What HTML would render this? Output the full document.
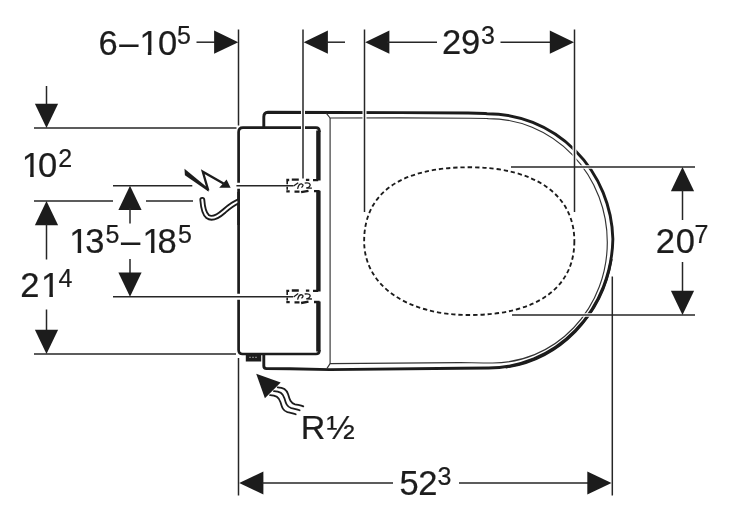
<!DOCTYPE html>
<html lang="en"><head><meta charset="utf-8"><title>Dimensional drawing</title>
<style>
html,body{margin:0;padding:0;background:#fff}
svg{display:block;will-change:transform;opacity:.999;filter:blur(.45px)}
text{font-family:"Liberation Sans",sans-serif;fill:#1c1c1c;stroke:#1c1c1c;stroke-width:.22}
.d{stroke:#262626;stroke-width:1.5;fill:none}
.k{stroke:#1c1c1c;fill:none;stroke-linejoin:round}
.t{stroke:#333;stroke-width:1.15;fill:none}
.w{stroke:#1c1c1c;stroke-width:1.8;fill:none;stroke-linecap:round}
.a{fill:#1c1c1c}
</style></head><body>
<svg width="736" height="524" viewBox="0 0 736 524">
<rect width="736" height="524" fill="#fff"/>
<path class="k" stroke-width="2.9" d="M263.8 127.5V117Q263.8 112.3 268 112.2L400 112.6L468 113C478 113.1 482 113.4 487.14 113.68A125.77 128.55 0 0 1 612.87 239A124.2 131.62 0 0 1 488.7 367.97C480 368 470 368.1 460 368.2L330 369.6L290 368.8L266.5 368.6Q263.8 368.6 263.8 366V355"/>
<path class="k" stroke-width="2.6" stroke-linecap="round" d="M611.31 259.66A124.2 131.62 0 0 1 506.29 367.14"/>
<path class="t" d="M326.4 113.4L330.1 118L400 117.8L470 118.2C478 118.2 483 118.4 488.25 118.57A119.22 123.66 0 0 1 607.3 242.3A114.69 120.51 0 0 1 492.3 363.02C480 363 470 362.7 460 362.6L330.1 363.6L327 368.4"/>
<path class="t" d="M330.1 118V363.6"/>
<path class="k" stroke-width="2.7" d="M319.25 132V131Q319.25 127.7 316 127.7H243Q238.6 127.7 238.6 132V350Q238.6 354 242.6 354H316Q319.25 354 319.25 351V350"/>
<path class="k" stroke-width="4.4" d="M318.4 180.6V130.5M318.4 190.8V291.4M318.4 301.6V351.5"/>
<rect x="245.8" y="354" width="15.4" height="7.5" fill="#1c1c1c"/>
<path d="M249 357.3H258" stroke="#777" stroke-width="1.2" stroke-dasharray="2 1"/>
<path d="M574.35 241.14C574.35 288.19 536.19 315.01 469.25 315.01C406.36 315.01 364.15 285.34 364.15 241.14C364.15 192.96 400.70 167.27 469.25 167.27C535.08 167.27 574.35 194.87 574.35 241.14Z" fill="none" stroke="#1c1c1c" stroke-width="1.85" stroke-dasharray="4.3 2.9"/>
<rect x="285.5" y="181.00" width="30" height="9.4" fill="#fff" stroke="none"/>
<path d="M286.3 180.00h2.9m2.6 -.3h7m7.1 .2h3.4m3.7 .2h5.2M286.3 191.40h3.4m4.8 .2h5m1.6 .6l7.4 -1.4m5.5 .4h5.6" fill="none" stroke="#1c1c1c" stroke-width="2.3"/>
<path d="M287.2 181.10v3.2m0 2.4v3" fill="none" stroke="#1c1c1c" stroke-width="1.6"/>
<path d="M293.6 186.10l4.6 -3.4m-.6 6.2q1.2 -5.4 4.2 -4.9q2.6 .8 -.3 3.6m3.2 -4.4q4.6 -.8 5.4 1.2q.6 2.6 -3.8 3.6l5.6 .2" fill="none" stroke="#1c1c1c" stroke-width="1.3"/>
<rect x="285.5" y="291.80" width="30" height="9.4" fill="#fff" stroke="none"/>
<path d="M286.3 290.80h2.9m2.6 -.3h7m7.1 .2h3.4m3.7 .2h5.2M286.3 302.20h3.4m4.8 .2h5m1.6 .6l7.4 -1.4m5.5 .4h5.6" fill="none" stroke="#1c1c1c" stroke-width="2.3"/>
<path d="M287.2 291.90v3.2m0 2.4v3" fill="none" stroke="#1c1c1c" stroke-width="1.6"/>
<path d="M293.6 296.90l4.6 -3.4m-.6 6.2q1.2 -5.4 4.2 -4.9q2.6 .8 -.3 3.6m3.2 -4.4q4.6 -.8 5.4 1.2q.6 2.6 -3.8 3.6l5.6 .2" fill="none" stroke="#1c1c1c" stroke-width="1.3"/>
<path d="M303 108V178M364.5 108V212M574.5 140V212" stroke="#fff" stroke-width="4" fill="none"/>
<path d="M236 185.8H286M236 296.7H286" stroke="#fff" stroke-width="4" fill="none"/>
<path d="M236 185.8H241.5M236 296.7H241.5" stroke="#fff" stroke-width="6" fill="none"/>
<path d="M511 167H600M512 315H600" stroke="#fff" stroke-width="3.6" fill="none"/>
<path class="d" d="M238.50 29.50V125.50"/>
<path class="d" d="M303.00 29.50V178.50"/>
<path class="d" d="M364.50 29.50V212.00"/>
<path class="d" d="M574.50 29.50V212.00"/>
<path class="d" d="M196.50 42.20H216.00"/>
<polygon class="a" points="238.30,42.20 214.10,30.60 214.10,53.80"/>
<polygon class="a" points="303.70,42.20 327.90,30.60 327.90,53.80"/>
<path class="d" d="M326.00 42.20H345.00"/>
<polygon class="a" points="365.20,42.20 389.40,30.60 389.40,53.80"/>
<path class="d" d="M387.00 42.20H437.00"/>
<path class="d" d="M500.50 42.20H552.00"/>
<polygon class="a" points="574.00,42.20 549.80,30.60 549.80,53.80"/>
<path class="d" d="M34.00 128.00H236.50"/>
<path class="d" d="M46.50 86.00V105.00"/>
<polygon class="a" points="46.50,128.00 34.90,103.80 58.10,103.80"/>
<path class="d" d="M34.00 201.00H113.00"/>
<path class="d" d="M146.00 201.00H193.00"/>
<path class="d" d="M113.00 185.80H192.30"/>
<path class="d" d="M236.40 185.80H293.40"/>
<polygon class="a" points="46.50,201.00 34.90,225.20 58.10,225.20"/>
<path class="d" d="M46.50 224.00V259.50"/>
<path class="d" d="M46.50 309.50V332.00"/>
<polygon class="a" points="46.50,354.00 34.90,329.80 58.10,329.80"/>
<path class="d" d="M34.00 354.00H236.00"/>
<rect x="117" y="190" width="26" height="22" fill="#fff"/>
<polygon class="a" points="130.00,185.80 118.40,210.00 141.60,210.00"/>
<path class="d" d="M130.00 208.00V223.50"/>
<path class="d" d="M130.00 259.00V274.00"/>
<polygon class="a" points="130.00,296.70 118.40,272.50 141.60,272.50"/>
<path class="d" d="M113.00 296.70H293.00"/>
<path class="d" d="M511.00 167.00H695.00"/>
<path class="d" d="M512.00 315.00H695.00"/>
<polygon class="a" points="682.50,167.00 670.90,191.20 694.10,191.20"/>
<path class="d" d="M682.50 190.00V220.00"/>
<path class="d" d="M682.50 262.00V292.00"/>
<polygon class="a" points="682.50,315.00 670.90,290.80 694.10,290.80"/>
<path class="d" d="M612.30 276.50V495.50"/>
<path class="d" d="M238.50 358.00V495.50"/>
<polygon class="a" points="239.20,483.00 263.40,471.40 263.40,494.60"/>
<path class="d" d="M262.00 483.00H393.00"/>
<path class="d" d="M459.00 483.00H589.00"/>
<polygon class="a" points="611.50,483.00 587.30,471.40 587.30,494.60"/>
<path d="M184.5 168.7L184.9 175.3L208.8 191.8L207.3 187.4Z" fill="#1c1c1c"/>
<path d="M208.3 190.6L202.8 171.7L223.5 183.6" fill="none" stroke="#1c1c1c" stroke-width="2.3" stroke-linejoin="miter" stroke-miterlimit="10"/>
<polygon class="a" points="230.6,187.8 226.6,179.6 219.2,187.7"/>
<clipPath id="cc"><rect x="0" y="0" width="238.6" height="524"/></clipPath>
<g clip-path="url(#cc)"><path d="M202.3 199.8C202.8 206.5 203.6 213.2 207.6 216.5C212.6 220.2 219 215.6 224 211.2C229 206.8 233 203.2 240 200.7" fill="none" stroke="#1c1c1c" stroke-width="5.8" stroke-linecap="round"/>
<path d="M202.3 199.8C202.8 206.5 203.6 213.2 207.6 216.5C212.6 220.2 219 215.6 224 211.2C229 206.8 233 203.2 240 200.7" fill="none" stroke="#fff" stroke-width="2.1" stroke-linecap="round"/></g>
<path class="k" stroke-width="2.5" d="M238.6 192V225"/>
<polygon class="a" points="256.2,373.8 280.7,382.5 264.9,398.3"/>
<path class="w" d="M277.7 387.3C282 387.3 286.3 388.3 288 394C289.6 399.5 290.6 403 295 404.3C298 405.1 301 405.2 303.3 406.4"/>
<path class="w" transform="translate(-3.7 3.9)" d="M277.7 387.3C282 387.3 286.3 388.3 288 394C289.6 399.5 290.6 403 295 404.3C298 405.1 301 405.2 303.3 406.4"/>
<path class="w" transform="translate(-7.6 7.9)" d="M277.7 387.3C282 387.3 286.3 388.3 288 394C289.6 399.5 290.6 403 295 404.3C298 405.1 301 405.2 303.3 406.4"/>
<text font-size="34.5"><tspan x="98.60" y="54.60">6</tspan><tspan x="119.30" y="54.60">–</tspan><tspan x="139.40" y="54.60">1</tspan><tspan x="158.00" y="54.60">0</tspan><tspan x="176.90" y="44.30" font-size="25">5</tspan></text>
<text font-size="34.5"><tspan x="441.90" y="54.30">2</tspan><tspan x="461.00" y="54.30">9</tspan><tspan x="481.00" y="44.00" font-size="25">3</tspan></text>
<text font-size="34.5"><tspan x="21.70" y="177.00">1</tspan><tspan x="38.00" y="177.00">0</tspan><tspan x="58.20" y="166.70" font-size="25">2</tspan></text>
<text font-size="34.5"><tspan x="69.20" y="253.20">1</tspan><tspan x="85.30" y="253.20">3</tspan><tspan x="105.60" y="242.90" font-size="25">5</tspan><tspan x="121.00" y="253.20">–</tspan><tspan x="142.50" y="253.20">1</tspan><tspan x="157.40" y="253.20">8</tspan><tspan x="177.90" y="242.90" font-size="25">5</tspan></text>
<text font-size="34.5"><tspan x="20.30" y="297.10">2</tspan><tspan x="40.90" y="297.10">1</tspan><tspan x="58.60" y="286.80" font-size="25">4</tspan></text>
<text font-size="34.5"><tspan x="655.70" y="253.00">2</tspan><tspan x="675.70" y="253.00">0</tspan><tspan x="694.60" y="242.70" font-size="25">7</tspan></text>
<text font-size="34.5"><tspan x="399.60" y="495.10">5</tspan><tspan x="418.20" y="495.10">2</tspan><tspan x="437.60" y="484.80" font-size="25">3</tspan></text>
<text font-size="34"><tspan x="300.8" y="439.4">R</tspan><tspan x="326.6" y="439.4">½</tspan></text>
<rect x="140.70" y="51.00" width="7.15" height="4.90" fill="#fff"/>
<rect x="151.40" y="51.00" width="6.50" height="4.90" fill="#fff"/>
<rect x="23.00" y="174.00" width="7.15" height="4.30" fill="#fff"/>
<rect x="33.70" y="174.00" width="6.50" height="4.30" fill="#fff"/>
<rect x="70.50" y="250.00" width="7.15" height="4.50" fill="#fff"/>
<rect x="81.20" y="250.00" width="6.50" height="4.50" fill="#fff"/>
<rect x="143.80" y="250.00" width="7.15" height="4.50" fill="#fff"/>
<rect x="154.50" y="250.00" width="6.50" height="4.50" fill="#fff"/>
<rect x="42.20" y="294.00" width="7.15" height="4.40" fill="#fff"/>
<rect x="52.90" y="294.00" width="6.50" height="4.40" fill="#fff"/>
</svg>
</body></html>
